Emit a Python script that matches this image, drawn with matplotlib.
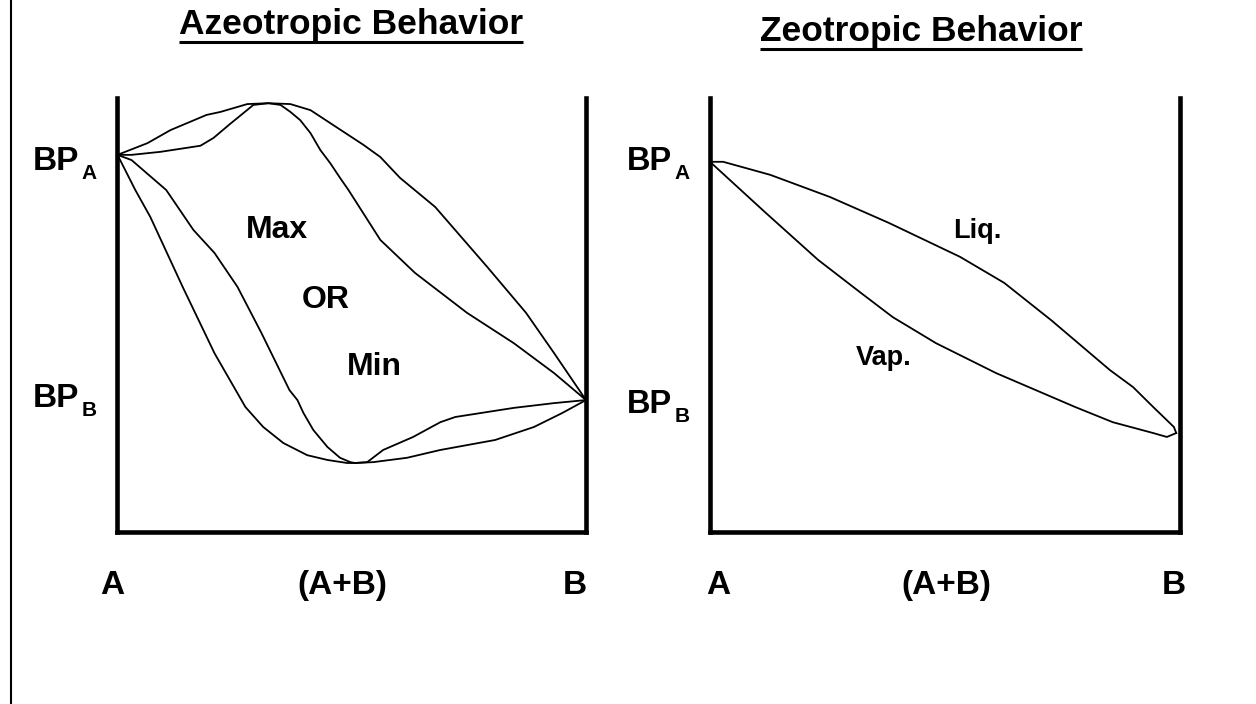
import matplotlib
matplotlib.use("Agg")
import matplotlib.pyplot as plt
from matplotlib.lines import Line2D

plt.rcParams['font.family'] = ['Liberation Sans', 'DejaVu Sans']
plt.rcParams['font.weight'] = 'bold'

W, H = 1256, 704

# ---------------- data (composition x: 0 = pure A, 1 = pure B; temperature T: 0-100 arbitrary) ----------------
# Azeotropic panel - maximum-boiling azeotrope loop
max_vap_x = [0.0, 0.064, 0.113, 0.190, 0.220, 0.277, 0.322, 0.369, 0.412, 0.467, 0.525, 0.561,
             0.603, 0.678, 0.789, 0.872, 0.932, 1.0]
max_vap_T = [86.9, 89.6, 92.6, 96.1, 96.8, 98.6, 98.8, 98.6, 97.2, 93.3, 89.2, 86.4,
             81.6, 74.9, 61.1, 50.5, 41.2, 30.4]
max_liq_x = [0.0, 0.030, 0.092, 0.177, 0.205, 0.240, 0.256, 0.290, 0.322, 0.348, 0.369, 0.390, 0.412,
             0.433, 0.454, 0.475, 0.493, 0.561, 0.635, 0.746, 0.846, 0.932, 1.0]
max_liq_T = [86.9, 86.9, 87.6, 89.0, 90.8, 94.0, 95.4, 98.4, 98.8, 98.4, 96.8, 94.9, 91.9,
             88.0, 85.0, 81.6, 78.8, 67.3, 59.7, 50.5, 43.5, 36.6, 30.4]
# Azeotropic panel - minimum-boiling azeotrope loop
min_liq_x = [0.0, 0.038, 0.070, 0.139, 0.207, 0.273, 0.311, 0.354, 0.405, 0.448, 0.490, 0.507,
             0.546, 0.618, 0.689, 0.806, 0.889, 0.949, 1.0]
min_liq_T = [86.9, 78.8, 72.6, 56.5, 41.2, 28.8, 24.2, 20.5, 17.7, 16.6, 15.9, 15.9,
             16.1, 17.1, 18.9, 21.2, 24.2, 27.4, 30.4]
min_vap_x = [0.0, 0.030, 0.104, 0.162, 0.207, 0.256, 0.307, 0.367, 0.384, 0.397, 0.418, 0.448,
             0.475, 0.497, 0.507, 0.533, 0.567, 0.631, 0.689, 0.721, 0.846, 0.932, 1.0]
min_vap_T = [86.9, 85.7, 78.8, 69.6, 64.3, 56.5, 45.9, 32.7, 30.4, 27.4, 23.5, 19.6,
             17.1, 16.1, 15.9, 16.1, 18.9, 21.9, 25.3, 26.5, 28.6, 29.7, 30.4]
# Zeotropic panel
zeo_liq_x = [0.0, 0.028, 0.128, 0.255, 0.381, 0.532, 0.626, 0.726, 0.851, 0.900, 0.943, 0.987, 0.992]
zeo_liq_T = [85.3, 85.3, 82.3, 77.2, 71.2, 63.4, 57.4, 48.8, 37.3, 33.4, 28.8, 24.2, 22.8]
zeo_vap_x = [0.0, 0.119, 0.230, 0.321, 0.389, 0.481, 0.609, 0.777, 0.857, 0.943, 0.972, 0.992]
zeo_vap_T = [85.3, 73.5, 62.7, 55.1, 49.5, 43.5, 36.6, 28.8, 25.3, 22.8, 21.9, 22.8]

titles = ["Azeotropic Behavior", "Zeotropic Behavior"]
x_labels = ["A", "(A+B)", "B"]
region_labels = ["Max", "OR", "Min"]
zeo_labels = ["Liq.", "Vap."]

# ---------------- figure ----------------
fig = plt.figure(figsize=(W / 100, H / 100), dpi=100)
fig.patch.set_facecolor('white')


def fx(px):
    return px / W


def fy(py):
    return 1 - py / H


def make_axes(left_px, right_px):
    ax = fig.add_axes([fx(left_px), fy(532), (right_px - left_px) / W, (532 - 98) / H])
    ax.set_xlim(0, 1)
    ax.set_ylim(0, 100)
    ax.set_xticks([])
    ax.set_yticks([])
    ax.spines['top'].set_visible(False)
    for s in ['left', 'right', 'bottom']:
        ax.spines[s].set_linewidth(3.3)
        ax.spines[s].set_color('black')
        ax.spines[s].set_capstyle('projecting')
    ax.patch.set_alpha(0)
    return ax


ax1 = make_axes(117.5, 586)
ax2 = make_axes(710, 1180)

lw = 1.3
for xs, ts in [(max_vap_x, max_vap_T), (max_liq_x, max_liq_T),
               (min_liq_x, min_liq_T), (min_vap_x, min_vap_T)]:
    ax1.plot(xs, ts, color='black', lw=lw, clip_on=False, solid_joinstyle='round')
for xs, ts in [(zeo_liq_x, zeo_liq_T), (zeo_vap_x, zeo_vap_T)]:
    ax2.plot(xs, ts, color='black', lw=lw, clip_on=False, solid_joinstyle='round')

# left page border line
fig.add_artist(Line2D([fx(10.5), fx(10.5)], [0, 1], color='black', lw=1.5, transform=fig.transFigure))

# titles with underline
title_pos = [(351, 34), (921, 41)]
fig.canvas.draw()
renderer = fig.canvas.get_renderer()
for t, (cx, by) in zip(titles, title_pos):
    txt = fig.text(fx(cx), fy(by), t, fontsize=25.5, fontweight='bold', ha='center', va='baseline')
    bb = txt.get_window_extent(renderer=renderer)
    uy = fy(by + 8)
    fig.add_artist(Line2D([bb.x0 / W, bb.x1 / W], [uy, uy], color='black', lw=2.2,
                          transform=fig.transFigure, solid_capstyle='butt'))


# BP labels
def bp_label(x_px, base_py, sub, size=24):
    t = fig.text(fx(x_px), fy(base_py), "BP", fontsize=size, fontweight='bold', ha='left', va='baseline')
    bb = t.get_window_extent(renderer=renderer)
    fig.text(bb.x1 / W + fx(2), fy(base_py + 9), sub, fontsize=15, fontweight='bold',
             ha='left', va='baseline')


bp_label(33, 170, "A")
bp_label(33, 407, "B")
bp_label(627, 170, "A", 23.5)
bp_label(627, 413, "B", 23.5)

# x-axis composition labels
for cxs in [(112, 342, 575), (718, 946, 1174)]:
    for lab, cx in zip(x_labels, cxs):
        fig.text(fx(cx), fy(594), lab, fontsize=24, fontweight='bold', ha='center', va='baseline')

# region labels
for lab, (cx, by) in zip(region_labels, [(277, 238), (326, 308), (374, 375)]):
    fig.text(fx(cx), fy(by), lab, fontsize=23, fontweight='bold', ha='center', va='baseline')
for lab, (cx, by) in zip(zeo_labels, [(977, 238), (884, 365)]):
    fig.text(fx(cx), fy(by), lab, fontsize=19.5, fontweight='bold', ha='center', va='baseline')

fig.savefig("out.png", dpi=100, facecolor='white')
